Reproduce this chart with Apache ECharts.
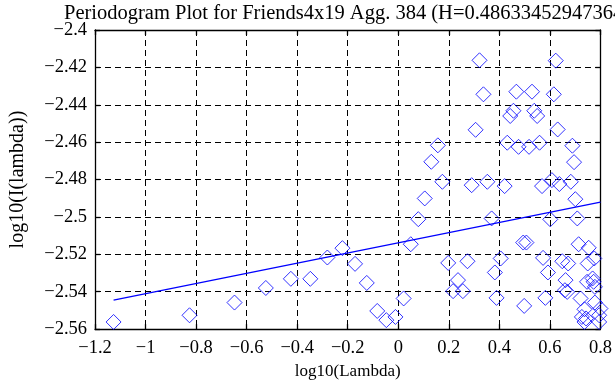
<!DOCTYPE html>
<html>
<head>
<meta charset="utf-8">
<script src="https://cdn.jsdelivr.net/npm/echarts@6/dist/echarts.min.js"></script>
<style>html,body{margin:0;padding:0;background:#fff}#c{width:615px;height:385px}</style>
</head>
<body>
<div id="c"></div>
<script>
var titleText = "Periodogram Plot for Friends4x19 Agg. 384 (H=0.486334529473646)";
var xName = "log10(Lambda)";
var yName = "log10(I(lambda))";
var xs = [-1.1265,-0.826,-0.648,-0.524,-0.425,-0.348,-0.2805,-0.221,-0.171,-0.1246,-0.0832,-0.0472,-0.0112,0.0213,0.0495,0.0793,0.1048,0.1308,0.1567,0.1745,0.1977,0.217,0.2364,0.2557,0.2739,0.2905,0.306,0.3215,0.337,0.3524,0.3694,0.3822,0.3888,0.4054,0.4209,0.4313,0.443,0.4557,0.4673,0.476,0.4944,0.4983,0.507,0.5176,0.5292,0.5381,0.5497,0.559,0.569,0.573,0.582,0.5923,0.6015,0.608,0.6155,0.6232,0.6309,0.6375,0.649,0.6595,0.6619,0.6685,0.6723,0.6828,0.689,0.6956,0.7006,0.7084,0.7137,0.7214,0.7265,0.7368,0.7368,0.743,0.747,0.7497,0.7536,0.769,0.773,0.7756,0.778,0.778,0.795,0.795,0.80];
var ys = [-2.5562,-2.5526,-2.5458,-2.538,-2.5331,-2.5331,-2.5217,-2.5167,-2.5251,-2.5353,-2.5503,-2.5552,-2.5535,-2.5436,-2.5146,-2.5012,-2.4901,-2.4705,-2.4617,-2.4812,-2.5246,-2.5397,-2.5338,-2.5397,-2.5237,-2.483,-2.4534,-2.4162,-2.4344,-2.4812,-2.5008,-2.5297,-2.5433,-2.5222,-2.4835,-2.4603,-2.446,-2.4432,-2.433,-2.4625,-2.5137,-2.5476,-2.5137,-2.4625,-2.433,-2.4432,-2.446,-2.4603,-2.4835,-2.5219,-2.5433,-2.5297,-2.5013,-2.4803,-2.4344,-2.4164,-2.4532,-2.4824,-2.5237,-2.5392,-2.5338,-2.5401,-2.5249,-2.4812,-2.4619,-2.4707,-2.4905,-2.5008,-2.5146,-2.5436,-2.5535,-2.5494,-2.5562,-2.5543,-2.5347,-2.5249,-2.5165,-2.5329,-2.5347,-2.5222,-2.5374,-2.5458,-2.5526,-2.5562,-2.549];
var fitX = [-1.1265, 0.8];
var fitY = [-2.5445, -2.4921];

var pts = xs.map(function(x,i){return [x, ys[i]];});
var fit = fitX.map(function(x,i){return [x, fitY[i]];});
var FF = "Liberation Serif";
function fmt(v){ var s = String(parseFloat(Number(v).toFixed(3))); return s.replace('-', '\u2212'); }
var gridDash = {show:true, lineStyle:{color:'#000', type:[6,4], width:1}};
var axLine = {show:true, onZero:false, lineStyle:{color:'#000', width:1.3}};
var axTick = {show:true, inside:true, length:5, lineStyle:{color:'#000', width:1.3}};
var chart = echarts.init(document.getElementById('c'), null, {renderer:'canvas'});
chart.setOption({
  animation:false,
  backgroundColor:'#fff',
  title:{text:titleText, left:59, top:-2, textStyle:{fontFamily:FF, fontWeight:'normal', fontSize:20.5, color:'#000'}},
  grid:{left:91, right:7, top:30, bottom:55},
  xAxis:[{
    type:'value', min:-1.2, max:0.8, interval:0.2, position:'bottom',
    name:xName, nameLocation:'middle', nameGap:32,
    nameTextStyle:{fontFamily:FF, fontSize:17, color:'#000'},
    axisLine:axLine, axisTick:axTick,
    axisLabel:{formatter:fmt, fontFamily:FF, fontSize:18.5, color:'#000', margin:10},
    splitLine:gridDash
  },{
    type:'value', min:-1.2, max:0.8, interval:0.2, position:'top',
    axisLine:axLine, axisTick:axTick,
    axisLabel:{show:false}, splitLine:{show:false}
  }],
  yAxis:[{
    type:'value', min:-2.56, max:-2.4, interval:0.02, position:'left',
    name:yName, nameLocation:'middle', nameGap:67, nameRotate:90,
    nameTextStyle:{fontFamily:FF, fontSize:20, color:'#000'},
    axisLine:axLine, axisTick:axTick,
    axisLabel:{formatter:fmt, fontFamily:FF, fontSize:18.5, color:'#000', margin:8},
    splitLine:gridDash
  },{
    type:'value', min:-2.56, max:-2.4, interval:0.02, position:'right',
    axisLine:axLine, axisTick:axTick,
    axisLabel:{show:false}, splitLine:{show:false}
  }],
  series:[{
    type:'scatter', xAxisIndex:0, yAxisIndex:0, data:pts, symbol:'diamond', symbolSize:15, clip:true,
    itemStyle:{color:'rgba(0,0,0,0)', borderColor:'#0000ff', borderWidth:1}
  },{
    type:'line', xAxisIndex:0, yAxisIndex:0, data:fit, symbol:'none',
    lineStyle:{color:'#0000ff', width:1.3}
  }]
});
</script>
</body>
</html>
